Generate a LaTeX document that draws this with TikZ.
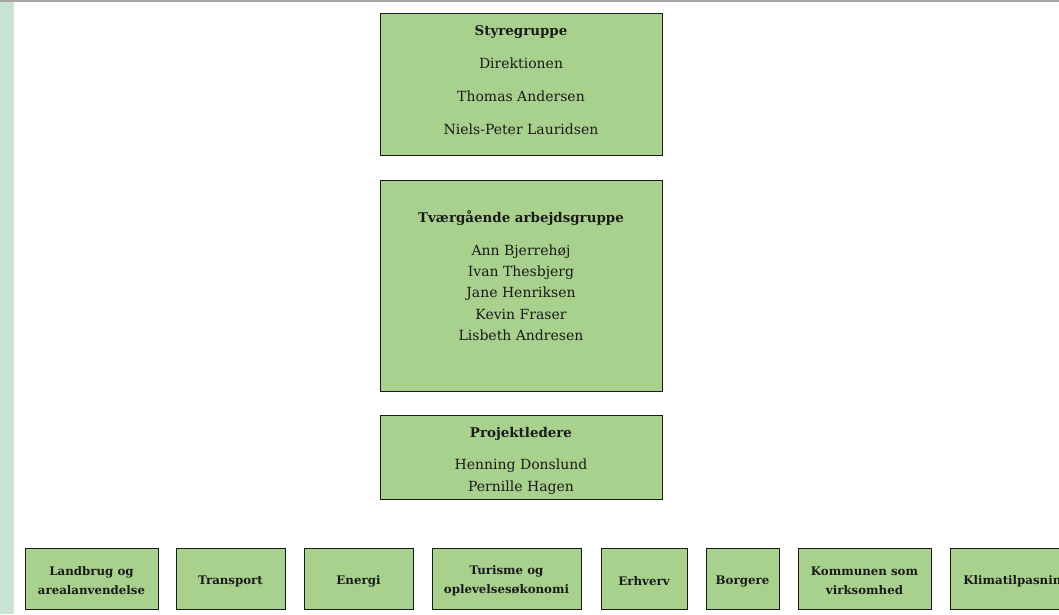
\documentclass[tikz,border=0pt]{standalone}
\usepackage{fontspec}
\setmainfont{DejaVu Serif}
\definecolor{boxgreen}{HTML}{A9D18E}
\definecolor{stripc}{HTML}{C6E3D3}
\definecolor{topline}{HTML}{A6A6A6}
\definecolor{ink}{HTML}{1A1A1A}
\begin{document}
\begin{tikzpicture}[x=1pt,y=-1pt,
  box/.style={draw=ink, fill=boxgreen, line width=0.8pt, anchor=north west, inner sep=0pt},
  lbox/.style={draw=ink, fill=boxgreen, line width=0.8pt, minimum height=61pt, inner sep=0pt},
  lbl/.style={align=center, font=\fontsize{11.8}{19}\selectfont\bfseries, text=ink, inner sep=0pt, yshift=-2.5pt},
  txt/.style={font=\fontsize{14}{16}\selectfont, inner sep=0pt, text=ink},
  ttl/.style={font=\fontsize{13.4}{16}\selectfont\bfseries, inner sep=0pt, text=ink}]
\clip (0,0) rectangle (1059,614);
\fill[stripc] (0,2) rectangle (14,614);
\draw[topline, line width=1.5pt] (0,1) -- (1059,1);

% Styregruppe
\node[box, minimum width=282pt, minimum height=142pt] (sty) at (380,13) {};
\node[ttl] (styt) at (521,32) {Styregruppe};
\node[txt] (sty1) at (521,63) {Direktionen};
\node[txt] (sty2) at (521,96) {Thomas Andersen};
\node[txt] (sty3) at (521,129) {Niels-Peter Lauridsen};

% Tværgående
\node[box, minimum width=282pt, minimum height=211pt] (tvg) at (380,180) {};
\node[ttl] (tvgt) at (521,218.5) {Tværgående arbejdsgruppe};
\node[txt] (tvg1) at (521,251.5) {Ann Bjerrehøj};
\node[txt] (tvg2) at (521,272.5) {Ivan Thesbjerg};
\node[txt] (tvg3) at (521,293.5) {Jane Henriksen};
\node[txt] (tvg4) at (521,314.5) {Kevin Fraser};
\node[txt] (tvg5) at (521,335.5) {Lisbeth Andresen};

% Projektledere
\node[box, minimum width=282pt, minimum height=84pt] (prj) at (380,415) {};
\node[ttl] (prjt) at (521,433.5) {Projektledere};
\node[txt] (prj1) at (521,465.5) {Henning Donslund};
\node[txt] (prj2) at (521,487.5) {Pernille Hagen};

% Bottom row
\node[lbox, minimum width=133pt] (land) at (91.5,578.5) {};
\node[lbox, minimum width=109pt] (trans) at (230.5,578.5) {};
\node[lbox, minimum width=109pt] (ener) at (358.5,578.5) {};
\node[lbox, minimum width=149pt] (turi) at (506.5,578.5) {};
\node[lbox, minimum width=86pt] (erhv) at (644,578.5) {};
\node[lbox, minimum width=73pt] (borg) at (742.5,578.5) {};
\node[lbox, minimum width=133pt] (komm) at (864.5,578.5) {};
\node[lbox, minimum width=133pt] (klim) at (1016.5,578.5) {};
\node[lbl] (landt) at (land.center) {Landbrug og\\arealanvendelse};
\node[lbl] (transt) at (trans.center) {Transport};
\node[lbl] (enert) at (ener.center) {Energi};
\node[lbl] (turit) at (turi.center) {Turisme og\\oplevelsesøkonomi};
\node[lbl] (erhvt) at (erhv.center) {Erhverv};
\node[lbl] (borgt) at (borg.center) {Borgere};
\node[lbl] (kommt) at (komm.center) {Kommunen som\\virksomhed};
\node[lbl] (klimt) at (klim.center) {Klimatilpasning};
\end{tikzpicture}
\end{document}
